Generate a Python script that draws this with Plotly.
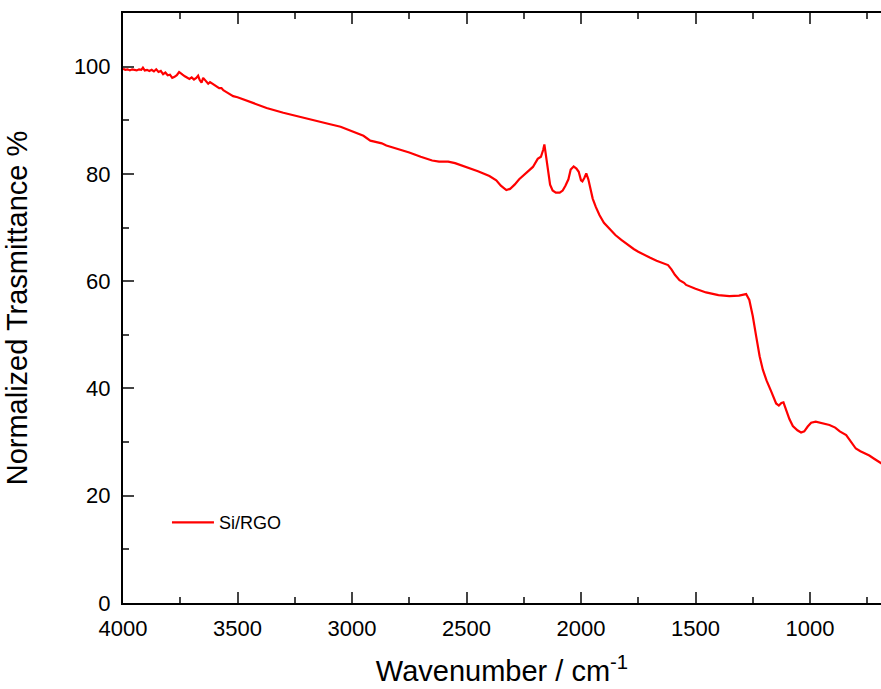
import plotly.graph_objects as go

wavenumber = [4000, 3990, 3980, 3970, 3960, 3950, 3940, 3930, 3920, 3913, 3905, 3895, 3885, 3875,
              3865, 3855, 3845, 3835, 3825, 3815, 3805, 3795, 3785, 3775, 3765, 3755, 3748, 3740,
              3730, 3720, 3710, 3700, 3690, 3680, 3672, 3665, 3657, 3650, 3643, 3636, 3628, 3620,
              3610, 3600, 3591, 3580, 3570, 3562, 3550, 3535, 3519, 3500, 3450, 3400, 3373, 3300,
              3228, 3150, 3100, 3050, 3000, 2950, 2920, 2900, 2870, 2850, 2800, 2750, 2700, 2650,
              2620, 2580, 2550, 2500, 2450, 2400, 2370, 2350, 2326, 2310, 2290, 2270, 2250, 2230,
              2210, 2189, 2175, 2165, 2160, 2155, 2145, 2135, 2124, 2110, 2093, 2080, 2068, 2055,
              2045, 2032, 2020, 2010, 2000, 1994, 1985, 1977, 1968, 1958, 1949, 1935, 1919, 1900,
              1870, 1850, 1824, 1800, 1770, 1750, 1720, 1700, 1670, 1640, 1620, 1605, 1590, 1570,
              1550, 1541, 1520, 1500, 1454, 1400, 1352, 1310, 1290, 1279, 1265, 1250, 1235, 1220,
              1206, 1190, 1170, 1148, 1136, 1125, 1116, 1105, 1090, 1075, 1055, 1039, 1025, 1010,
              995, 975, 950, 915, 890, 870, 842, 820, 800, 780, 760, 741, 720, 697, 680]

transmittance = [99.6, 99.4, 99.5, 99.3, 99.5, 99.4, 99.3, 99.5, 99.4, 99.8, 99.3, 99.4, 99.2, 99.4,
                 99.1, 99.5, 99.0, 99.2, 98.6, 98.9, 98.4, 98.5, 97.9, 98.1, 98.4, 99.0, 98.7, 98.5,
                 98.2, 98.0, 97.7, 98.0, 97.6, 97.9, 98.3, 97.5, 97.0, 97.9, 97.6, 97.1, 96.8, 97.1,
                 96.8, 96.5, 96.3, 96.0, 96.0, 95.6, 95.3, 94.9, 94.5, 94.3, 93.5, 92.8, 92.3, 91.4,
                 90.6, 89.8, 89.3, 88.8, 88.0, 87.1, 86.2, 86.0, 85.7, 85.3, 84.7, 84.0, 83.2, 82.5,
                 82.3, 82.3, 82.0, 81.3, 80.5, 79.6, 78.8, 77.8, 77.0, 77.2, 78.0, 79.0, 79.8, 80.6,
                 81.3, 82.8, 83.2, 84.5, 85.5, 84.0, 80.5, 78.0, 76.9, 76.5, 76.5, 76.9, 77.8, 79.0,
                 80.8, 81.4, 81.0, 80.4, 78.8, 78.6, 79.3, 80.1, 79.0, 76.8, 75.4, 73.8, 72.3, 70.9,
                 69.5, 68.6, 67.7, 66.9, 66.0, 65.5, 64.8, 64.4, 63.8, 63.4, 63.0, 62.2, 61.2, 60.2,
                 59.7, 59.3, 59.0, 58.6, 57.9, 57.4, 57.2, 57.3, 57.5, 57.6, 56.5, 53.5, 49.7, 46.0,
                 43.5, 41.5, 39.5, 37.2, 36.8, 37.3, 37.4, 36.0, 34.3, 33.0, 32.2, 31.8, 32.0, 32.9,
                 33.6, 33.8, 33.6, 33.2, 32.7, 32.0, 31.3, 30.0, 28.8, 28.3, 27.9, 27.5, 26.9, 26.2, 25.8]

series_name = "Si/RGO"
x_ticks = [4000, 3500, 3000, 2500, 2000, 1500, 1000]
y_ticks = [0, 20, 40, 60, 80, 100]

FONT = "Liberation Sans, Arial, sans-serif"

fig = go.Figure()
fig.add_trace(go.Scatter(x=wavenumber, y=transmittance, mode="lines", name=series_name,
                         line=dict(color="#FF0000", width=2.2)))

fig.update_layout(
    width=881, height=689,
    margin=dict(l=123, r=0, t=13, b=86),
    paper_bgcolor="white", plot_bgcolor="white",
    font=dict(family=FONT, color="black"),
    showlegend=True,
    legend=dict(x=0.058, y=0.136, xanchor="left", yanchor="middle", itemwidth=42,
                bgcolor="rgba(0,0,0,0)", font=dict(size=18, family=FONT)),
)
fig.update_xaxes(
    range=[4000, 690], tickvals=x_ticks, ticks="inside", ticklen=11, tickwidth=2,
    minor=dict(dtick=250, ticks="inside", ticklen=6, tickwidth=2, tick0=0),
    showline=True, linewidth=2, linecolor="black", mirror="ticks",
    showgrid=False, zeroline=False, tickfont=dict(size=22), ticklabelstandoff=5,
    title=dict(text="Wavenumber / cm<sup>-1</sup>", font=dict(size=29), standoff=20),
    automargin=False,
)
fig.update_yaxes(
    range=[0, 110], tickvals=y_ticks, ticks="inside", ticklen=11, tickwidth=2,
    minor=dict(dtick=10, ticks="inside", ticklen=6, tickwidth=2, tick0=0),
    showline=True, linewidth=2, linecolor="black",
    showgrid=False, zeroline=False, tickfont=dict(size=22), ticklabelstandoff=6,
    title=dict(text="Normalized Trasmittance %", font=dict(size=29), standoff=38),
    automargin=False,
)

fig.write_html("out.html")
